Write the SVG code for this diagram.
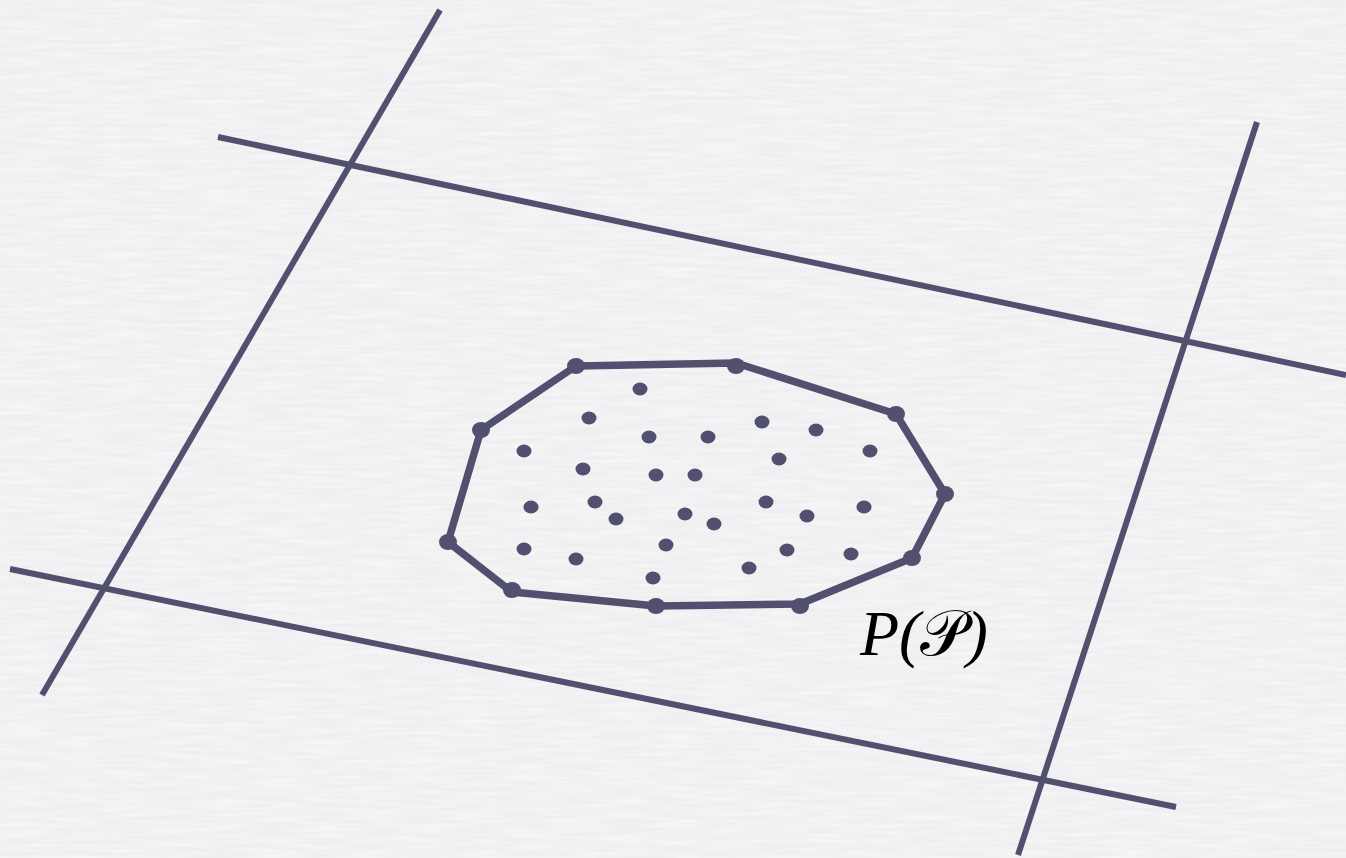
<svg xmlns="http://www.w3.org/2000/svg" width="1346" height="858" viewBox="0 0 1346 858">
<style>
.ln{stroke:#51506f;stroke-width:6;fill:none}
.hull{stroke:#51506f;stroke-width:7.5;fill:none;stroke-linejoin:round}
.v{fill:#51506f}
.p{fill:#51506f}
.lbl{font-family:"Liberation Serif","DejaVu Serif",serif;font-style:italic;font-size:64px;fill:#000}
</style>
<defs>
<filter id="tex" x="0" y="0" width="100%" height="100%">
<feTurbulence type="fractalNoise" baseFrequency="0.02 0.25" numOctaves="3" seed="3"/>
<feColorMatrix type="matrix" values="0 0 0 0 1  0 0 0 0 1  0 0 0 0 1  0 0 0 -0.9 0.6"/>
</filter>
</defs>
<rect width="1346" height="858" fill="#efeff1"/>
<rect width="1346" height="858" filter="url(#tex)"/>
<g id="connectors">
<line class="ln" x1="440" y1="10" x2="42" y2="695"/>
<line class="ln" x1="218" y1="137" x2="1346" y2="375"/>
<line class="ln" x1="10" y1="569" x2="1176" y2="807"/>
<line class="ln" x1="1257" y1="122" x2="1018" y2="855"/>
<polygon class="hull" points="576,366 736,363 896,414 945,494 912,558 800,604 656,606 512,592 448,542 481,430"/>
</g>
<g id="hull-vertices">
<ellipse class="v" cx="576" cy="366" rx="9" ry="8"/>
<ellipse class="v" cx="736" cy="366" rx="9" ry="8"/>
<ellipse class="v" cx="896" cy="414" rx="9" ry="8"/>
<ellipse class="v" cx="945" cy="494" rx="9" ry="8"/>
<ellipse class="v" cx="912" cy="558" rx="9" ry="8"/>
<ellipse class="v" cx="800" cy="606" rx="9" ry="8"/>
<ellipse class="v" cx="656" cy="606" rx="9" ry="8"/>
<ellipse class="v" cx="512" cy="590" rx="9" ry="8"/>
<ellipse class="v" cx="448" cy="542" rx="9" ry="8"/>
<ellipse class="v" cx="481" cy="430" rx="9" ry="8"/>
</g>
<g id="points">
<ellipse class="p" cx="640" cy="389" rx="7.5" ry="6.5"/>
<ellipse class="p" cx="589" cy="418" rx="7.5" ry="6.5"/>
<ellipse class="p" cx="649" cy="437" rx="7.5" ry="6.5"/>
<ellipse class="p" cx="708" cy="437" rx="7.5" ry="6.5"/>
<ellipse class="p" cx="762" cy="422" rx="7.5" ry="6.5"/>
<ellipse class="p" cx="816" cy="430" rx="7.5" ry="6.5"/>
<ellipse class="p" cx="870" cy="451" rx="7.5" ry="6.5"/>
<ellipse class="p" cx="524" cy="451" rx="7.5" ry="6.5"/>
<ellipse class="p" cx="583" cy="469" rx="7.5" ry="6.5"/>
<ellipse class="p" cx="656" cy="475" rx="7.5" ry="6.5"/>
<ellipse class="p" cx="695" cy="475" rx="7.5" ry="6.5"/>
<ellipse class="p" cx="779" cy="459" rx="7.5" ry="6.5"/>
<ellipse class="p" cx="531" cy="507" rx="7.5" ry="6.5"/>
<ellipse class="p" cx="595" cy="502" rx="7.5" ry="6.5"/>
<ellipse class="p" cx="616" cy="519" rx="7.5" ry="6.5"/>
<ellipse class="p" cx="685" cy="514" rx="7.5" ry="6.5"/>
<ellipse class="p" cx="714" cy="524" rx="7.5" ry="6.5"/>
<ellipse class="p" cx="766" cy="502" rx="7.5" ry="6.5"/>
<ellipse class="p" cx="807" cy="516" rx="7.5" ry="6.5"/>
<ellipse class="p" cx="864" cy="507" rx="7.5" ry="6.5"/>
<ellipse class="p" cx="524" cy="549" rx="7.5" ry="6.5"/>
<ellipse class="p" cx="576" cy="559" rx="7.5" ry="6.5"/>
<ellipse class="p" cx="666" cy="545" rx="7.5" ry="6.5"/>
<ellipse class="p" cx="653" cy="578" rx="7.5" ry="6.5"/>
<ellipse class="p" cx="749" cy="568" rx="7.5" ry="6.5"/>
<ellipse class="p" cx="787" cy="550" rx="7.5" ry="6.5"/>
<ellipse class="p" cx="851" cy="554" rx="7.5" ry="6.5"/>
</g>
<g id="label">
<text class="lbl" x="860" y="655">P(<tspan font-family="'DejaVu Serif','Noto Sans',serif" font-style="normal">𝒫</tspan>)</text>
</g>
</svg>
